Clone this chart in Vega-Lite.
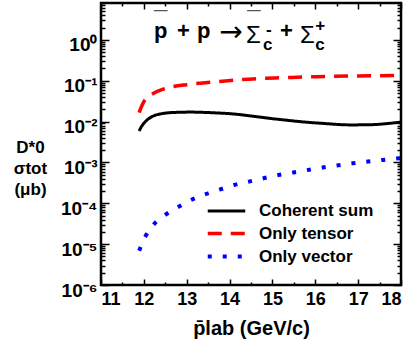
{
  "$schema": "https://vega.github.io/schema/vega-lite/v6.json",
  "width": 300,
  "height": 282,
  "autosize": {"type": "none"},
  "padding": {"left": 101, "top": 3, "right": 14, "bottom": 64},
  "config": {
    "view": {"stroke": "black", "strokeWidth": 2.5},
    "font": "Liberation Sans",
    "axis": {"grid": false, "domain": false, "labelFont": "Liberation Sans", "labelFontWeight": "bold", "labelColor": "black", "tickColor": "black", "titleColor": "black", "titleFont": "Liberation Sans", "tickWidth": 1.5}
  },
  "datasets": {
    "curves": [
      {"series": "Coherent sum", "x": 11.89, "y": 0.0059},
      {"series": "Coherent sum", "x": 11.95, "y": 0.0077},
      {"series": "Coherent sum", "x": 12.0, "y": 0.0091},
      {"series": "Coherent sum", "x": 12.1, "y": 0.0115},
      {"series": "Coherent sum", "x": 12.22, "y": 0.0137},
      {"series": "Coherent sum", "x": 12.4, "y": 0.0155},
      {"series": "Coherent sum", "x": 12.6, "y": 0.0165},
      {"series": "Coherent sum", "x": 12.84, "y": 0.0169},
      {"series": "Coherent sum", "x": 13.1, "y": 0.0171},
      {"series": "Coherent sum", "x": 13.31, "y": 0.0169},
      {"series": "Coherent sum", "x": 13.7, "y": 0.0163},
      {"series": "Coherent sum", "x": 14.09, "y": 0.0154},
      {"series": "Coherent sum", "x": 14.48, "y": 0.0138},
      {"series": "Coherent sum", "x": 14.71, "y": 0.0129},
      {"series": "Coherent sum", "x": 15.0, "y": 0.0118},
      {"series": "Coherent sum", "x": 15.3, "y": 0.0109},
      {"series": "Coherent sum", "x": 15.64, "y": 0.0100},
      {"series": "Coherent sum", "x": 16.2, "y": 0.0090},
      {"series": "Coherent sum", "x": 16.81, "y": 0.0083},
      {"series": "Coherent sum", "x": 17.3, "y": 0.0084},
      {"series": "Coherent sum", "x": 17.7, "y": 0.0090},
      {"series": "Coherent sum", "x": 18.0, "y": 0.0097},
      {"series": "Only tensor", "x": 11.89, "y": 0.0166},
      {"series": "Only tensor", "x": 11.95, "y": 0.024},
      {"series": "Only tensor", "x": 12.0, "y": 0.031},
      {"series": "Only tensor", "x": 12.1, "y": 0.040},
      {"series": "Only tensor", "x": 12.22, "y": 0.049},
      {"series": "Only tensor", "x": 12.45, "y": 0.062},
      {"series": "Only tensor", "x": 12.69, "y": 0.072},
      {"series": "Only tensor", "x": 13.0, "y": 0.080},
      {"series": "Only tensor", "x": 13.31, "y": 0.087},
      {"series": "Only tensor", "x": 13.9, "y": 0.099},
      {"series": "Only tensor", "x": 14.55, "y": 0.111},
      {"series": "Only tensor", "x": 15.3, "y": 0.119},
      {"series": "Only tensor", "x": 16.03, "y": 0.126},
      {"series": "Only tensor", "x": 17.0, "y": 0.131},
      {"series": "Only tensor", "x": 18.0, "y": 0.135},
      {"series": "Only vector", "x": 11.89, "y": 0.0000069},
      {"series": "Only vector", "x": 12.03, "y": 0.000015},
      {"series": "Only vector", "x": 12.22, "y": 0.0000295},
      {"series": "Only vector", "x": 12.5, "y": 0.000052},
      {"series": "Only vector", "x": 12.8, "y": 0.000081},
      {"series": "Only vector", "x": 13.1, "y": 0.00012},
      {"series": "Only vector", "x": 13.43, "y": 0.000166},
      {"series": "Only vector", "x": 13.76, "y": 0.000215},
      {"series": "Only vector", "x": 14.1, "y": 0.00028},
      {"series": "Only vector", "x": 14.45, "y": 0.00034},
      {"series": "Only vector", "x": 14.79, "y": 0.00041},
      {"series": "Only vector", "x": 15.14, "y": 0.000494},
      {"series": "Only vector", "x": 15.49, "y": 0.00057},
      {"series": "Only vector", "x": 16.17, "y": 0.00075},
      {"series": "Only vector", "x": 16.87, "y": 0.00095},
      {"series": "Only vector", "x": 17.57, "y": 0.00115},
      {"series": "Only vector", "x": 18.0, "y": 0.00128}
    ],
    "ann": [
      {"part": "bold", "t": "p", "x": 12.237, "y": 1.12},
      {"part": "bold", "t": "+", "x": 12.773, "y": 1.12},
      {"part": "bold", "t": "p", "x": 13.24, "y": 1.12},
      {"part": "bold", "t": "+", "x": 15.177, "y": 1.12},
      {"part": "arrow", "t": "→", "x": 13.76, "y": 0.945},
      {"part": "sigma", "t": "Σ", "x": 14.383, "y": 0.844},
      {"part": "sigma", "t": "Σ", "x": 15.643, "y": 0.844},
      {"part": "sub", "t": "c", "x": 14.78, "y": 0.569},
      {"part": "sub", "t": "c", "x": 16.0, "y": 0.569},
      {"part": "sup", "t": "-", "x": 14.85, "y": 1.3},
      {"part": "sup", "t": "+", "x": 16.0, "y": 1.62},
      {"part": "bar", "t": "¯", "x": 12.237, "y": 1.95},
      {"part": "bar", "t": "¯", "x": 14.41, "y": 1.95}
    ]
  },
  "layer": [
    {
      "data": {"name": "curves"},
      "mark": {"type": "line", "strokeCap": "butt", "interpolate": "monotone"},
      "encoding": {
        "x": {"field": "x", "type": "quantitative", "scale": {"domain": [11, 18], "nice": false, "zero": false},
          "axis": {"orient": "bottom", "values": [11, 12, 13, 14, 15, 16, 17, 18], "format": "d", "tickSize": -6, "labelFontSize": 18, "labelPadding": 11, "title": "p̄lab (GeV/c)", "titleFontSize": 20, "titleFontWeight": "bold", "titlePadding": 10}},
        "y": {"field": "y", "type": "quantitative", "scale": {"type": "log", "domain": [0.000001, 8], "nice": false},
          "axis": {"orient": "left", "values": [0.000001, 0.00001, 0.0001, 0.001, 0.01, 0.1, 1], "tickSize": -8, "labelFontSize": 19, "labelPadding": 12, "labelBaseline": "middle", "labelOffset": 5,
            "labelExpr": "datum.value > 0.5 ? '10⁰' : datum.value > 0.05 ? '10⁻¹' : datum.value > 0.005 ? '10⁻²' : datum.value > 0.0005 ? '10⁻³' : datum.value > 0.00005 ? '10⁻⁴' : datum.value > 0.000005 ? '10⁻⁵' : '10⁻⁶'",
            "title": ["D*0", "σtot", "(μb)"], "titleAngle": 0, "titleAlign": "center", "titleBaseline": "middle", "titleX": -71, "titleY": 144, "titleLineHeight": 21, "titleFontSize": 17, "titleFontWeight": "bold"}},
        "color": {"field": "series", "type": "nominal", "scale": {"domain": ["Coherent sum", "Only tensor", "Only vector"], "range": ["#000000", "#ff0000", "#0000ff"]},
          "legend": {"orient": "none", "legendX": 116, "legendY": 199, "title": null, "padding": 0, "symbolType": "M-2.5,0H2.5", "symbolSize": 225, "symbolStrokeWidth": 4, "labelFontSize": 17, "labelFontWeight": "bold", "labelFont": "Liberation Sans", "labelColor": "black", "labelOffset": 23, "rowPadding": 5, "symbolOffset": 0}},
        "strokeDash": {"field": "series", "type": "nominal", "scale": {"domain": ["Coherent sum", "Only tensor", "Only vector"], "range": [[1, 0], [14, 9], [4, 11]]},
          "legend": {"orient": "none", "legendX": 116, "legendY": 199, "title": null, "padding": 0, "symbolType": "M-2.5,0H2.5", "symbolSize": 225, "symbolStrokeWidth": 4, "labelFontSize": 17, "labelFontWeight": "bold", "labelFont": "Liberation Sans", "labelColor": "black", "labelOffset": 23, "rowPadding": 5, "symbolOffset": 0}},
        "strokeWidth": {"field": "series", "type": "nominal", "scale": {"domain": ["Coherent sum", "Only tensor", "Only vector"], "range": [3, 4, 4.5]}, "legend": null}
      }
    },
    {
      "data": {"name": "curves"},
      "mark": {"type": "point", "opacity": 0},
      "encoding": {
        "x": {"field": "x", "type": "quantitative", "scale": {"domain": [11, 18], "nice": false, "zero": false},
          "axis": {"orient": "top", "values": [11, 12, 13, 14, 15, 16, 17, 18], "labels": false, "tickSize": -6, "title": null}},
        "y": {"field": "y", "type": "quantitative", "scale": {"type": "log", "domain": [0.000001, 8], "nice": false},
          "axis": {"orient": "right", "values": [0.000001, 0.00001, 0.0001, 0.001, 0.01, 0.1, 1], "labels": false, "tickSize": -8, "title": null}}
      }
    },
    {
      "data": {"name": "curves"},
      "mark": {"type": "point", "opacity": 0},
      "encoding": {
        "x": {"field": "x", "type": "quantitative", "scale": {"domain": [11, 18], "nice": false, "zero": false},
          "axis": {"orient": "bottom", "values": [11.5, 12.5, 13.5, 14.5, 15.5, 16.5, 17.5], "labels": false, "tickSize": -3, "title": null}},
        "y": {"field": "y", "type": "quantitative", "scale": {"type": "log", "domain": [0.000001, 8], "nice": false},
          "axis": {"orient": "left", "values": [0.000002, 0.000003, 0.000004, 0.000005, 0.000006, 0.000007, 0.000008, 0.000009, 0.00002, 0.00003, 0.00004, 0.00005, 0.00006, 0.00007, 0.00008, 0.00009, 0.0002, 0.0003, 0.0004, 0.0005, 0.0006, 0.0007, 0.0008, 0.0009, 0.002, 0.003, 0.004, 0.005, 0.006, 0.007, 0.008, 0.009, 0.02, 0.03, 0.04, 0.05, 0.06, 0.07, 0.08, 0.09, 0.2, 0.3, 0.4, 0.5, 0.6, 0.7, 0.8, 0.9, 2, 3, 4, 5, 6, 7, 8], "labels": false, "tickSize": -4, "title": null}}
      }
    },
    {
      "data": {"name": "curves"},
      "mark": {"type": "point", "opacity": 0},
      "encoding": {
        "x": {"field": "x", "type": "quantitative", "scale": {"domain": [11, 18], "nice": false, "zero": false},
          "axis": {"orient": "top", "values": [11.5, 12.5, 13.5, 14.5, 15.5, 16.5, 17.5], "labels": false, "tickSize": -3, "title": null}},
        "y": {"field": "y", "type": "quantitative", "scale": {"type": "log", "domain": [0.000001, 8], "nice": false},
          "axis": {"orient": "right", "values": [0.000002, 0.000003, 0.000004, 0.000005, 0.000006, 0.000007, 0.000008, 0.000009, 0.00002, 0.00003, 0.00004, 0.00005, 0.00006, 0.00007, 0.00008, 0.00009, 0.0002, 0.0003, 0.0004, 0.0005, 0.0006, 0.0007, 0.0008, 0.0009, 0.002, 0.003, 0.004, 0.005, 0.006, 0.007, 0.008, 0.009, 0.02, 0.03, 0.04, 0.05, 0.06, 0.07, 0.08, 0.09, 0.2, 0.3, 0.4, 0.5, 0.6, 0.7, 0.8, 0.9, 2, 3, 4, 5, 6, 7, 8], "labels": false, "tickSize": -4, "title": null}}
      }
    },
    {
      "data": {"name": "ann"},
      "transform": [{"filter": "datum.part == 'bold'"}],
      "mark": {"type": "text", "align": "left", "baseline": "alphabetic", "fontSize": 22, "fontWeight": "bold", "font": "Liberation Sans", "color": "black"},
      "encoding": {
        "x": {"field": "x", "type": "quantitative", "scale": {"domain": [11, 18], "nice": false, "zero": false}, "axis": null},
        "y": {"field": "y", "type": "quantitative", "scale": {"type": "log", "domain": [0.000001, 8], "nice": false}, "axis": null},
        "text": {"field": "t"}
      }
    },
    {
      "data": {"name": "ann"},
      "transform": [{"filter": "datum.part == 'arrow'"}],
      "mark": {"type": "text", "align": "left", "baseline": "alphabetic", "fontSize": 28, "font": "DejaVu Sans", "color": "black"},
      "encoding": {
        "x": {"field": "x", "type": "quantitative", "scale": {"domain": [11, 18], "nice": false, "zero": false}, "axis": null},
        "y": {"field": "y", "type": "quantitative", "scale": {"type": "log", "domain": [0.000001, 8], "nice": false}, "axis": null},
        "text": {"field": "t"}
      }
    },
    {
      "data": {"name": "ann"},
      "transform": [{"filter": "datum.part == 'sigma'"}],
      "mark": {"type": "text", "align": "left", "baseline": "alphabetic", "fontSize": 24, "font": "Liberation Sans", "color": "black"},
      "encoding": {
        "x": {"field": "x", "type": "quantitative", "scale": {"domain": [11, 18], "nice": false, "zero": false}, "axis": null},
        "y": {"field": "y", "type": "quantitative", "scale": {"type": "log", "domain": [0.000001, 8], "nice": false}, "axis": null},
        "text": {"field": "t"}
      }
    },
    {
      "data": {"name": "ann"},
      "transform": [{"filter": "datum.part == 'sub' || datum.part == 'sup'"}],
      "mark": {"type": "text", "align": "left", "baseline": "alphabetic", "fontSize": 17, "fontWeight": "bold", "font": "Liberation Sans", "color": "black"},
      "encoding": {
        "x": {"field": "x", "type": "quantitative", "scale": {"domain": [11, 18], "nice": false, "zero": false}, "axis": null},
        "y": {"field": "y", "type": "quantitative", "scale": {"type": "log", "domain": [0.000001, 8], "nice": false}, "axis": null},
        "text": {"field": "t"}
      }
    },
    {
      "data": {"name": "ann"},
      "transform": [{"filter": "datum.part == 'bar'"}],
      "mark": {"type": "text", "align": "left", "baseline": "alphabetic", "fontSize": 24, "font": "Liberation Sans", "color": "#555555"},
      "encoding": {
        "x": {"field": "x", "type": "quantitative", "scale": {"domain": [11, 18], "nice": false, "zero": false}, "axis": null},
        "y": {"field": "y", "type": "quantitative", "scale": {"type": "log", "domain": [0.000001, 8], "nice": false}, "axis": null},
        "text": {"field": "t"}
      }
    }
  ],
  "resolve": {"axis": {"x": "independent", "y": "independent"}}
}
